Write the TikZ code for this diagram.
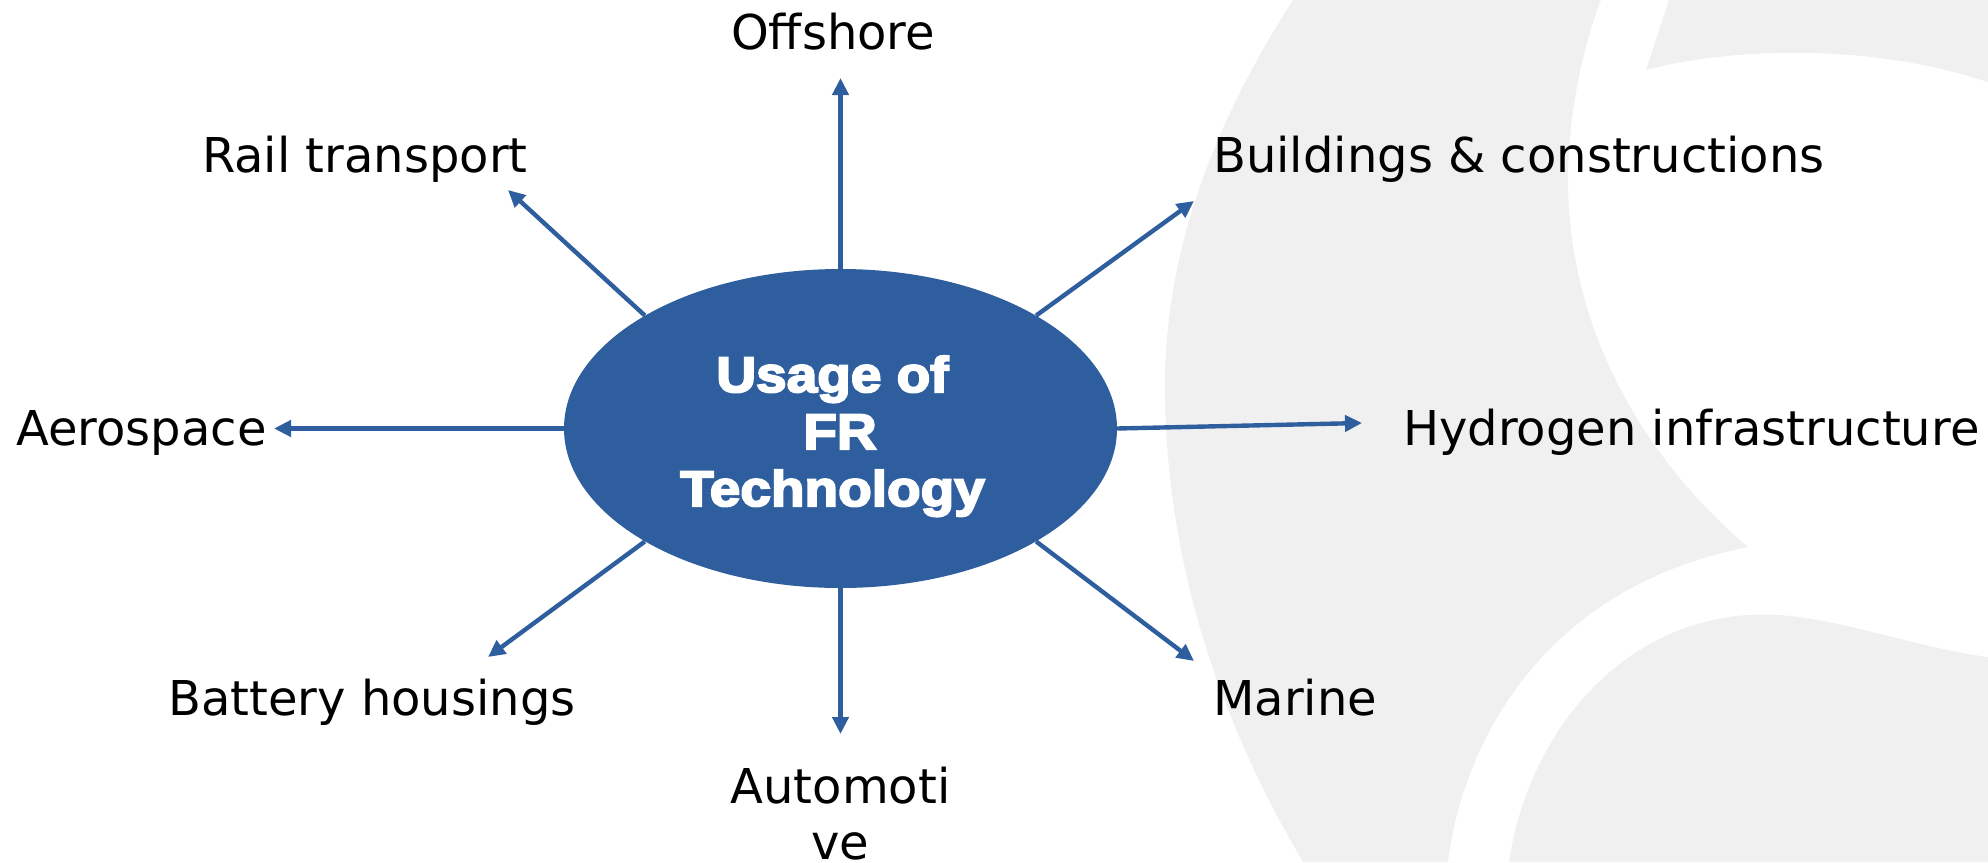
\documentclass[tikz,border=0pt]{standalone}
\usepackage{fontspec}
\usetikzlibrary{arrows.meta,shapes.geometric}
\setmainfont{DejaVu Sans}
\newfontfamily\hubfont[FakeBold=4,FakeStretch=1.1]{Liberation Sans Bold}
\definecolor{hubblue}{HTML}{2E5E9E}
\definecolor{wm}{HTML}{F0F0F0}
\tikzset{
  x=1pt,y=-1pt,
  label text/.style={font=\fontsize{48}{56}\selectfont,text=black,inner sep=0pt,anchor=base west},
  spoke/.style={hubblue,line width=4.4pt,-{Triangle[length=17pt,width=16pt]},shorten >=0pt},
  wmfill/.style={fill=wm,draw=none}
}
\begin{document}
\begin{tikzpicture}
\useasboundingbox (0,0) rectangle (1988,862);
\path[wmfill] (1293,0) .. controls (1215,121) and (1165,250) .. (1165,385)
  .. controls (1165,570) and (1225,730) .. (1303,862)
  -- (1448,862) .. controls (1460,760) and (1530,590) .. (1748,547)
  .. controls (1645,460) and (1568,330) .. (1568,180)
  .. controls (1568,110) and (1585,40) .. (1601,0) -- cycle;
\path[wmfill] (1669,0) -- (1646,70) .. controls (1720,50) and (1860,40) .. (1988,82) -- (1988,0) -- cycle;
\path[wmfill] (1509,862) .. controls (1530,720) and (1640,600) .. (1790,616)
  .. controls (1850,622) and (1920,648) .. (1988,657) -- (1988,862) -- cycle;
\node[ellipse,fill=hubblue,draw=none,minimum width=553pt,minimum height=319pt,inner sep=0pt] (hub) at (840.5,428.5) {};
\node[text=white,align=center,inner sep=0pt,anchor=base,font=\hubfont\fontsize{50}{57}\selectfont] (hubtext) at (840,506)
  {\hspace*{-15pt}Usage of\\FR\\\hspace*{-15pt}Technology};
\node[label text] (offshore) at (731,49) {Offshore};
\node[label text] (rail) at (202,172) {Rail transport};
\node[label text] (build) at (1213,172) {Buildings \& constructions};
\node[label text] (aero) at (16,445) {Aerospace};
\node[label text] (hydro) at (1403,445) {Hydrogen infrastructure};
\node[label text] (batt) at (168,715) {Battery housings};
\node[label text] (marine) at (1213,715) {Marine};
\node[label text,anchor=base,align=center] (auto) at (840.5,859) {Automoti\\ve};
\coordinate (eoff) at (840.5,78);
\coordinate (erail) at (508,190);
\coordinate (ebuild) at (1194,201);
\coordinate (eaero) at (274,428.5);
\coordinate (ehydro) at (1362,423);
\coordinate (ebatt) at (488,657);
\coordinate (eauto) at (840.5,734);
\coordinate (emarine) at (1194,661);
\draw[spoke] (hub.north) -- (eoff);
\draw[spoke] (hub.150) -- (erail);
\draw[spoke] (hub.30) -- (ebuild);
\draw[spoke] (hub.west) -- (eaero);
\draw[spoke] (hub.east) -- (ehydro);
\draw[spoke] (hub.210) -- (ebatt);
\draw[spoke] (hub.south) -- (eauto);
\draw[spoke] (hub.-30) -- (emarine);
\end{tikzpicture}
\end{document}
